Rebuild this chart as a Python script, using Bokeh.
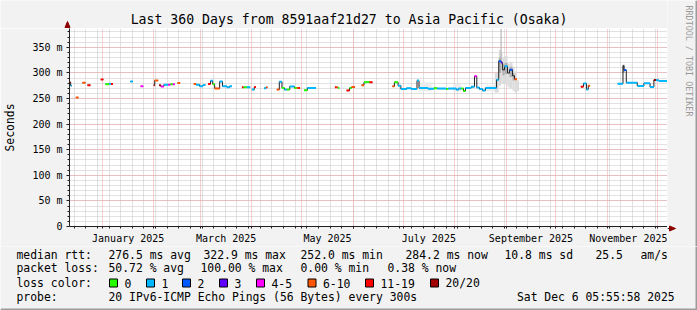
import pandas as pd
from math import pi
from bokeh.plotting import figure
from bokeh.layouts import column, row
from bokeh.models import (Range1d, FixedTicker, DatetimeTickFormatter, Label, Grid,
                          ColumnDataSource)
from bokeh.embed import file_html
from bokeh.resources import INLINE

# ------------------------------------------------------------------ data
WINDOW_START = pd.Timestamp("2024-12-12 04:15")
WINDOW_DAYS = 360

# median rtt runs: start/end in days from the window start, rtt in ms, loss class
run_start = [0.0, 0.7, 3.8, 7.8, 10.8, 18.8, 21.6, 23.8, 25.0, 36.6, 42.8, 50.7, 51.3, 54.0,
             55.0, 56.8, 59.4, 60.8, 62.2, 65.0, 74.8, 76.2, 78.3, 80.4, 83.4, 84.9, 86.2,
             87.4, 90.4, 92.1, 94.8, 96.4, 103.8, 104.8, 106.8, 109.8, 111.2, 117.2, 118.4,
             124.8, 126.3, 127.9, 129.4, 130.8, 132.6, 135.4, 136.8, 137.8, 141.2, 143.2,
             159.8, 160.8, 161.6, 166.8, 168.6, 169.8, 175.8, 177.3, 178.8, 180.6, 194.4,
             195.6, 197.8, 199.5, 202.8, 205.8, 209.2, 210.4, 215.8, 219.4, 221.4, 226.8,
             228.0, 232.8, 234.3, 235.8, 237.2, 238.4, 241.8, 243.8, 245.2, 246.8, 248.7,
             250.4, 257.1, 258.4, 259.8, 260.6, 261.9, 263.7, 264.9, 266.7, 267.9, 307.8,
             309.4, 311.2, 312.3, 330.0, 333.2, 333.8, 335.2, 341.8, 345.8, 349.5, 351.8,
             353.1, 354.8]
run_end = [0.7, 1.3, 5.4, 9.6, 12.6, 20.4, 23.8, 25.0, 26.2, 38.2, 44.4, 51.3, 53.4, 55.0,
           56.8, 59.4, 60.8, 62.2, 63.4, 66.6, 76.2, 78.3, 80.4, 81.8, 84.9, 86.2, 87.4,
           90.4, 92.1, 94.8, 96.4, 97.8, 104.8, 106.8, 108.8, 111.2, 112.2, 118.4, 119.2,
           126.3, 127.9, 129.4, 130.8, 132.6, 135.4, 136.8, 137.8, 138.8, 143.2, 148.4,
           160.8, 161.6, 162.4, 168.6, 169.8, 171.8, 177.3, 178.8, 180.6, 182.4, 195.6,
           197.8, 199.5, 202.8, 205.8, 209.2, 210.4, 215.8, 219.4, 221.4, 226.8, 228.0,
           232.8, 234.3, 235.8, 237.2, 238.4, 241.8, 243.8, 245.2, 246.8, 248.7, 250.4,
           257.1, 258.4, 259.8, 260.6, 261.9, 263.7, 264.9, 266.7, 267.9, 269.4, 309.4,
           311.2, 312.3, 313.4, 333.2, 333.8, 335.2, 341.8, 345.8, 349.5, 351.8, 353.1,
           354.8, 360.0]
run_rtt = [281.4, 275.2, 252.0, 281.0, 276.1, 287.2, 278.1, 279.0, 278.5, 283.3, 273.8,
           275.8, 285.2, 275.8, 273.6, 277.1, 277.1, 277.9, 277.9, 280.4, 278.5, 277.1,
           274.2, 276.5, 278.5, 284.5, 278.1, 269.8, 283.3, 273.8, 271.9, 273.8, 271.9,
           271.9, 271.9, 267.4, 272.3, 270.3, 271.9, 267.4, 282.9, 270.7, 267.4, 267.4,
           273.6, 270.7, 270.7, 270.7, 266.1, 270.7, 271.9, 271.9, 270.7, 265.9, 270.7,
           272.3, 276.1, 281.9, 282.3, 281.6, 273.8, 281.9, 275.2, 268.4, 270.0, 268.8,
           285.2, 270.7, 269.0, 270.3, 269.4, 268.8, 269.4, 267.4, 269.4, 269.4, 264.5,
           270.7, 272.9, 293.6, 271.3, 268.4, 265.5, 270.7, 286.8, 322.9, 320.2, 306.1,
           312.9, 299.7, 306.1, 294.5, 287.7, 273.2, 279.4, 267.8, 275.2, 279.0, 313.9,
           305.5, 281.0, 274.6, 279.6, 272.3, 286.2, 285.8, 284.2]
run_loss = ["20/20", "1", "6-10", "6-10", "11-19", "11-19", "0", "1", "11-19", "1", "4-5",
            "20/20", "6-10", "20/20", "4-5", "1", "4-5", "0", "4-5", "6-10", "6-10", "1",
            "1", "1", "11-19", "1", "0", "6-10", "1", "1", "1", "1", "11-19", "0", "1", "1",
            "11-19", "1", "6-10", "6-10", "1", "0", "1", "0", "1", "0", "6-10", "11-19", "0",
            "1", "11-19", "6-10", "0", "11-19", "0", "6-10", "6-10", "0", "0", "11-19",
            "6-10", "0", "1", "1", "1", "1", "1", "1", "1", "0", "1", "0", "1", "1", "1", "0",
            "0", "1", "1", "4-5", "1", "1", "1", "1", "1", "2", "3", "-", "1", "-", "2", "-",
            "6-10", "11-19", "1", "1", "6-10", "1", "-", "2", "1", "1", "1", "1", "20/20",
            "1", "1"]

# smoke (ping spread) patches: days from window start, ms
smoke_start = [210.4, 231.0, 251.0, 256.0, 258.4, 259.8, 260.6, 261.9, 263.7, 264.9, 266.7,
               267.9, 269.4, 258.4, 260.6, 261.9, 264.9, 266.7, 259.5, 333.0]
smoke_end = [218.0, 236.0, 257.0, 258.4, 259.8, 260.6, 261.9, 263.7, 264.9, 266.7, 267.9,
             269.4, 270.6, 259.8, 261.9, 263.7, 266.7, 267.9, 260.1, 334.2]
smoke_lo = [264, 264, 264, 262, 275, 280, 280, 278, 272, 270, 265, 262, 264, 300, 295, 298,
            292, 285, 320, 300]
smoke_hi = [282, 278, 276, 300, 345, 340, 330, 333, 318, 322, 312, 303, 285, 330, 318, 320,
            312, 300, 386, 316]
smoke_shade = ["#ececec", "#ececec", "#ececec", "#dcdcdc", "#dcdcdc", "#dcdcdc", "#dcdcdc",
               "#dcdcdc", "#dcdcdc", "#dcdcdc", "#dcdcdc", "#dcdcdc", "#dcdcdc", "#b0b0b0",
               "#b0b0b0", "#b0b0b0", "#b0b0b0", "#b0b0b0", "#a8a8a8", "#a0a0a0"]

loss_labels = ["0", "1", "2", "3", "4-5", "6-10", "11-19", "20/20"]
loss_colors = ["#26ff00", "#00b8ff", "#0059ff", "#5e00ff", "#ff00ff", "#ff5500", "#ff0000",
               "#a00000"]

y_major_ticks = [0, 50, 100, 150, 200, 250, 300, 350]
y_tick_labels = ["0", "50 m", "100 m", "150 m", "200 m", "250 m", "300 m", "350 m"]
x_label_months = ["2025-01", "2025-03", "2025-05", "2025-07", "2025-09", "2025-11"]

title_text = "Last 360 Days from 8591aaf21d27 to Asia Pacific (Osaka)"
rtt_row = ["median rtt:", "276.5 ms avg", "322.9 ms max", "252.0 ms min", "284.2 ms now",
           "10.8 ms sd", "25.5", "am/s"]
loss_row = ["packet loss:", "50.72 % avg", "100.00 % max", "0.00 % min", "0.38 % now"]
probe_row = ["probe:", "20 IPv6-ICMP Echo Pings (56 Bytes) every 300s"]
stamp_text = "Sat Dec  6 05:55:58 2025"
side_text = "RRDTOOL / TOBI OETIKER"

# ------------------------------------------------------------------ layout constants
W, H = 697, 310
FL, FT, FR, FB = 67, 28, 667, 228     # plot frame in page pixels
XB = 246                              # bottom of the x-axis label band
Y_TOP = 386.8
MONO = "DejaVu Sans Mono"
AXIS_COL = "#202020"
ARROW_COL = "#8b0000"
BG = "#f2f2f2"

t0 = WINDOW_START
t1 = WINDOW_START + pd.Timedelta(days=WINDOW_DAYS)


def when(d):
    return t0 + pd.to_timedelta(d, unit="D")


def ms(ts):
    return pd.Timestamp(ts).value / 1e6


def no_align(f):
    try:
        f.frame_align = False
        return True
    except Exception:
        return False


# ------------------------------------------------------------------ main chart
p = figure(width=FR, height=XB - FT, x_axis_type="datetime", output_backend="svg",
           toolbar_location=None, x_range=Range1d(t0, t1), y_range=Range1d(0, Y_TOP),
           min_border_left=FL, min_border_right=0, min_border_top=0,
           min_border_bottom=XB - FB)
ALIGN_OFF = no_align(p)
p.background_fill_color = "#ffffff"
p.border_fill_color = BG
p.outline_line_color = None
p.xgrid.visible = False
p.ygrid.visible = False

week_ms = [ms(t) for t in pd.date_range("2024-12-15", t1, freq="7D")]
month_ms = [ms(t) for t in pd.date_range("2025-01-01", t1, freq="MS")]
tens = list(range(10, 390, 10))
fifties = [v for v in y_major_ticks if v > 0]
for dim, ticks, col in [(0, week_ms, "#c4c4c4"), (1, tens, "#c4c4c4"),
                        (0, month_ms, "#f0a0a0"), (1, fifties, "#f0a0a0")]:
    p.add_layout(Grid(dimension=dim, ticker=FixedTicker(ticks=ticks), grid_line_color=col,
                      grid_line_dash="1 1", grid_line_width=1))

label_ms = []
for m in x_label_months:
    a = pd.Timestamp(m + "-01")
    b = a + pd.offsets.MonthBegin(1)
    label_ms.append(ms(a + (b - a) / 2))
xa = p.xaxis[0]
xa.ticker = FixedTicker(ticks=label_ms, minor_ticks=week_ms + month_ms)
fmt = "%B %Y"
xa.formatter = DatetimeTickFormatter(microseconds=fmt, milliseconds=fmt, seconds=fmt,
                                     minsec=fmt, minutes=fmt, hourmin=fmt, hours=fmt,
                                     days=fmt, months=fmt, years=fmt)
xa.major_tick_out = 0
xa.major_tick_in = 0
xa.minor_tick_out = 2
xa.minor_tick_in = 0
xa.axis_line_color = AXIS_COL
xa.minor_tick_line_color = AXIS_COL
xa.major_label_text_font = MONO
xa.major_label_text_font_size = "10px"
xa.major_label_text_color = "#000000"
xa.major_label_standoff = 4

ya = p.yaxis[0]
ya.ticker = FixedTicker(ticks=y_major_ticks, minor_ticks=tens)
ya.major_label_overrides = dict(zip(y_major_ticks, y_tick_labels))
ya.major_tick_out = 3
ya.major_tick_in = 0
ya.minor_tick_out = 2
ya.minor_tick_in = 0
ya.axis_line_color = AXIS_COL
ya.major_tick_line_color = AXIS_COL
ya.minor_tick_line_color = AXIS_COL
ya.major_label_text_font = MONO
ya.major_label_text_font_size = "10px"
ya.major_label_text_color = "#000000"
ya.major_label_standoff = 4
ya.axis_label = "Seconds"
ya.axis_label_text_font = MONO
ya.axis_label_text_font_size = "11.4px"
ya.axis_label_text_font_style = "normal"
ya.axis_label_text_color = "#000000"
ya.axis_label_standoff = 12

# smoke
p.quad(left=[when(d) for d in smoke_start], right=[when(d) for d in smoke_end],
       bottom=smoke_lo, top=smoke_hi, fill_color=smoke_shade, line_color=None)

# median line (dark step line, broken at gaps)
xs, ys = [], []
cur_x, cur_y = [], []
prev_end = None
for s, e, v in zip(run_start, run_end, run_rtt):
    if prev_end is None or abs(s - prev_end) > 1e-6:
        if cur_x:
            xs.append(cur_x)
            ys.append(cur_y)
        cur_x, cur_y = [], []
    cur_x += [when(s), when(e)]
    cur_y += [v, v]
    prev_end = e
if cur_x:
    xs.append(cur_x)
    ys.append(cur_y)
p.multi_line(xs=xs, ys=ys, line_color="#202020", line_width=1)

# loss-coloured segments
cmap = dict(zip(loss_labels, loss_colors))
seg = dict(x0=[], x1=[], y=[], c=[])
for s, e, v, l in zip(run_start, run_end, run_rtt, run_loss):
    if l in cmap:
        seg["x0"].append(when(s))
        seg["x1"].append(when(e))
        seg["y"].append(v)
        seg["c"].append(cmap[l])
p.segment(x0="x0", x1="x1", y0="y", y1="y", line_color="c", line_width=2,
          source=ColumnDataSource(seg))


# ------------------------------------------------------------------ decoration strips
def strip(x0, x1, y0, y1, vx0=None, vx1=None):
    """figure whose frame shows the page rectangle x0..x1, y0..y1 (page px, y down)"""
    f = figure(width=x1 - x0, height=y1 - y0,
               x_range=Range1d(x0 if vx0 is None else vx0, x1 if vx1 is None else vx1),
               y_range=Range1d(y1, y0), output_backend="svg", toolbar_location=None,
               x_axis_location=None, y_axis_location=None, min_border=0)
    no_align(f)
    f.grid.visible = False
    f.outline_line_color = None
    f.background_fill_color = BG
    f.border_fill_color = BG
    return f


def put(f, text, X, Y, size, align="left", color="#000000", angle=0.0):
    f.add_layout(Label(x=X, y=Y, text=text, text_font=MONO, text_font_size=f"{size}px",
                       text_align=align, text_baseline="middle", text_color=color,
                       angle=angle))


if ALIGN_OFF:
    top = strip(0, FR, 0, FT)
else:   # frames get aligned with the chart's frame: map only the frame's span
    top = strip(0, FR, 0, FT, vx0=FL, vx1=FR)
side = strip(FR, W, 0, XB)
bot = strip(0, W, XB, H)

put(top, title_text, 348.5, 19, 13.2, align="center")
put(side, side_text, 688.5, 5, 8.4, color="#9a9a9a", angle=-pi / 2)

# axis extensions with arrow heads
top.segment(x0=[FL], y0=[FT], x1=[FL], y1=[24], line_color=AXIS_COL, line_width=1)
top.patch(x=[FL - 2.5, FL + 2.5, FL], y=[27, 27, 21], fill_color=ARROW_COL,
          line_color=ARROW_COL)
side.segment(x0=[FR], y0=[FB], x1=[670], y1=[FB], line_color=AXIS_COL, line_width=1)
side.patch(x=[669, 669, 675], y=[FB - 2.5, FB + 2.5, FB], fill_color=ARROW_COL,
           line_color=ARROW_COL)

LEG = 11.4
for t, x in zip(rtt_row, [16, 108, 203, 300, 405, 504, 595, 640]):
    put(bot, t, x, 254.3, LEG)
for t, x in zip(loss_row, [16, 108, 200, 300, 387]):
    put(bot, t, x, 267.8, LEG)
put(bot, "loss color:", 16, 282.5, LEG)
box_x = [109, 146, 182, 219, 256, 307.5, 365, 430]
bot.quad(left=box_x, right=[x + 8 for x in box_x], top=[278.5] * 8, bottom=[286.5] * 8,
         fill_color=loss_colors, line_color="#000000", line_width=1)
for lab, x in zip(loss_labels, box_x):
    put(bot, lab, x + 15, 282.5, LEG)
for t, x in zip(probe_row, [16, 108]):
    put(bot, t, x, 296.3, LEG)
put(bot, stamp_text, 681, 296.3, LEG, align="right")

# 3d page frame (dark right / bottom edge)
for f, (y0, y1) in ((side, (0, XB)), (bot, (XB, H))):
    f.quad(left=[W - 2], right=[W], top=[y0], bottom=[y1], fill_color="#9c9c9c",
           line_color=None)
bot.quad(left=[0], right=[W], top=[H - 2], bottom=[H], fill_color="#9c9c9c",
         line_color=None)

layout = column(row(column(top, p), side), bot)
open("out.html", "w").write(file_html(layout, INLINE))
